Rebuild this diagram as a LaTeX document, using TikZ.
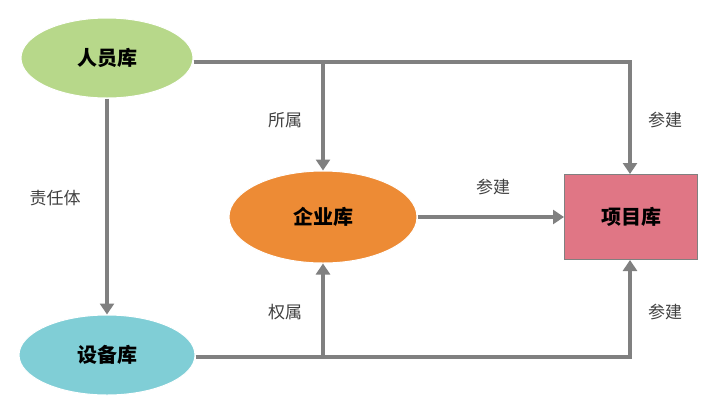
\documentclass[tikz,border=0pt]{standalone}
\usepackage{fontspec}
\newfontfamily\cjk{Noto Sans CJK SC}
\usetikzlibrary{shapes.geometric,arrows.meta}
\begin{document}
\begin{tikzpicture}[x=1pt,y=-1pt,
  conn/.style={draw=black!50,line width=4pt,-{Triangle[length=11pt,width=14pt]}},
  line/.style={draw=black!50,line width=4pt},
  ell/.style={ellipse,draw=white,line width=1pt,font=\cjk\bfseries\fontsize{20}{24}\selectfont},
  lab/.style={font=\cjk\fontsize{17}{20}\selectfont,text=black!75}]
\useasboundingbox (0,0) rectangle (709,413);
\node[ell,fill={rgb,255:red,183;green,216;blue,138},minimum width=172pt,minimum height=80pt] (ry) at (107,58) {人员库};
\node[ell,fill={rgb,255:red,128;green,206;blue,214},minimum width=176pt,minimum height=80pt] (sb) at (107,355) {设备库};
\node[ell,fill={rgb,255:red,237;green,139;blue,53},minimum width=188pt,minimum height=92pt] (qy) at (323,217) {企业库};
\node[draw=black!50,line width=1pt,fill={rgb,255:red,224;green,118;blue,133},minimum width=133pt,minimum height=85pt,font=\cjk\bfseries\fontsize{20}{24}\selectfont] (xm) at (631,217) {项目库};
\coordinate (a1) at (323,62);
\coordinate (a2) at (630,62);
\coordinate (b1) at (323,357);
\coordinate (b2) at (630,357);
\draw[line] (ry.east |- a1) -- (a1);
\draw[conn] (ry.east |- a1) -- (a2) -- (xm.north -| a2);
\draw[conn] (a1) -- (qy.north);
\draw[conn] (ry.south) -- (sb.north);
\draw[conn] (sb.east |- b1) -- (b2) -- (xm.south -| b2);
\draw[conn] (b1) -- (qy.south);
\draw[conn] (qy.east) -- (xm.west);
\node[lab] (l1) at (285,120) {所属};
\node[lab] (l2) at (665,120) {参建};
\node[lab] (l3) at (55,198) {责任体};
\node[lab] (l4) at (493,187) {参建};
\node[lab] (l5) at (285,312) {权属};
\node[lab] (l6) at (665,312) {参建};
\end{tikzpicture}
\end{document}
